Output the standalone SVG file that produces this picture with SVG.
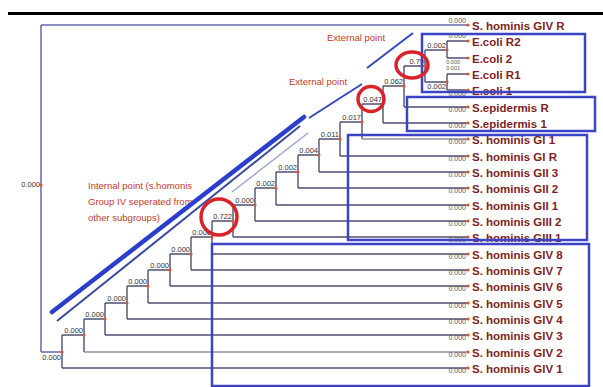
<svg xmlns="http://www.w3.org/2000/svg" width="603" height="387" viewBox="0 0 603 387">
<style>
.br{fill:none;stroke:#4d4f74;stroke-width:1.4}
.lt{fill:none;stroke:#8e90a4;stroke-width:1.4}
.bl{fill:none;stroke:#6468a8;stroke-width:1.5}
.dot{fill:#e4532b}
.nl{font-family:"Liberation Sans",Arial,sans-serif;font-size:7.5px;fill:#333;text-anchor:end}
.ll{font-family:"Liberation Sans",Arial,sans-serif;font-size:7px;fill:#555;text-anchor:end}
.sm{font-size:5.5px}
.lf{font-family:"Liberation Sans",Arial,sans-serif;font-size:11.5px;font-weight:bold;fill:#7d1f24}
.an{font-family:"Liberation Sans",Arial,sans-serif;font-size:9.5px;fill:#c0392b}
.box{fill:none;stroke:#3b44c4;stroke-width:2.5}
.ring{fill:none;stroke:#d9232a;stroke-width:3.5}
</style>
<rect width="603" height="387" fill="#ffffff"/>
<rect x="8" y="12" width="595" height="3" fill="#000"/>

<g id="connectors">
<path class="bl" d="M41,25V352M41,25H468M41,352H62"/>
<path class="br" d="M62,335V368M62,368H468M62,335H84"/>
<path class="br" d="M84,319V352M84,319H105"/>
<path class="lt" d="M84,352H468"/>
<path class="br" d="M105,303V335M105,335H468M105,303H127"/>
<path class="br" d="M127,286V319M127,319H468M127,286H148"/>
<path class="br" d="M148,270V303M148,303H468M148,270H170"/>
<path class="br" d="M170,254V286M170,286H468M170,254H191"/>
<path class="br" d="M191,237V270M191,270H468M191,237H212"/>
<path class="br" d="M212,221V254M212,254H468M212,221H233"/>
<path class="br" d="M233,205V237M233,237H468M233,205H255"/>
<path class="br" d="M255,188V221M255,221H468M255,188H276"/>
<path class="br" d="M276,172V205M276,205H468M276,172H298"/>
<path class="br" d="M298,155V188M298,188H468M298,155H319"/>
<path class="br" d="M319,139V172M319,172H468M319,139H340"/>
<path class="br" d="M340,122V156M340,156H468M340,122H362"/>
<path class="br" d="M362,104V139M362,104H383"/>
<path class="lt" d="M362,139H468"/>
<path class="br" d="M383,86V123M383,123H468M383,86H404"/>
<path class="br" d="M404,66V107M404,107H468M404,66H425"/>
<path class="br" d="M425,50V82M425,50H447M425,82H447"/>
<path class="br" d="M447,41V58M447,41H468M447,58H468"/>
<path class="br" d="M447,74V90M447,74H468M447,90H468"/>
</g>

<g id="root"><circle class="dot" cx="41" cy="185" r="1.6"/><text class="nl" x="40" y="187">0.000</text></g>
<g id="n-a"><circle class="dot" cx="62" cy="352" r="1.6"/><text class="nl" x="61" y="360">0.000</text></g>
<g id="n-b"><circle class="dot" cx="84" cy="335" r="1.6"/><text class="nl" x="83" y="333">0.000</text></g>
<g id="n-c"><circle class="dot" cx="105" cy="319" r="1.6"/><text class="nl" x="104" y="317">0.000</text></g>
<g id="n-d"><circle class="dot" cx="127" cy="303" r="1.6"/><text class="nl" x="126" y="301">0.000</text></g>
<g id="n-e"><circle class="dot" cx="148" cy="286" r="1.6"/><text class="nl" x="147" y="284">0.000</text></g>
<g id="n-f"><circle class="dot" cx="170" cy="270" r="1.6"/><text class="nl" x="169" y="268">0.000</text></g>
<g id="n-g"><circle class="dot" cx="191" cy="254" r="1.6"/><text class="nl" x="190" y="252">0.000</text></g>
<g id="n-h"><circle class="dot" cx="212" cy="237" r="1.6"/><text class="nl" x="211" y="235">0.000</text></g>
<g id="n-722"><circle class="dot" cx="233" cy="221" r="1.6"/><text class="nl" x="232" y="219">0.722</text></g>
<g id="n-i"><circle class="dot" cx="255" cy="205" r="1.6"/><text class="nl" x="254" y="203">0.000</text></g>
<g id="n-j"><circle class="dot" cx="276" cy="188" r="1.6"/><text class="nl" x="275" y="186">0.002</text></g>
<g id="n-k"><circle class="dot" cx="298" cy="172" r="1.6"/><text class="nl" x="297" y="170">0.002</text></g>
<g id="n-l"><circle class="dot" cx="319" cy="155" r="1.6"/><text class="nl" x="318" y="153">0.004</text></g>
<g id="n-m"><circle class="dot" cx="340" cy="139" r="1.6"/><text class="nl" x="339" y="137">0.011</text></g>
<g id="n-n"><circle class="dot" cx="362" cy="122" r="1.6"/><text class="nl" x="361" y="120">0.017</text></g>
<g id="n-047"><circle class="dot" cx="383" cy="104" r="1.6"/><text class="nl" x="382" y="102">0.047</text></g>
<g id="n-062"><circle class="dot" cx="404" cy="86" r="1.6"/><text class="nl" x="403" y="84">0.062</text></g>
<g id="n-79"><circle class="dot" cx="425" cy="66" r="1.6"/><text class="nl" x="424" y="64">0.79</text></g>
<g id="n-ea"><circle class="dot" cx="447" cy="50" r="1.6"/><text class="nl" x="446" y="48">0.002</text></g>
<g id="n-eb"><circle class="dot" cx="447" cy="82" r="1.6"/><text class="nl" x="446" y="89">0.002</text></g>

<g id="leaf-givr"><circle class="dot" cx="468" cy="25" r="1.6"/><text class="ll" x="466" y="23">0.000</text><text class="lf" x="472" y="29.5">S. hominis GIV R</text></g>
<g id="leaf-ecolir2"><circle class="dot" cx="468" cy="41" r="1.6"/><text class="ll" x="466" y="38">0.000</text><text class="lf" x="472" y="45.5">E.coli R2</text></g>
<g id="leaf-ecoli2"><circle class="dot" cx="468" cy="58" r="1.6"/><text class="ll sm" x="460" y="63.5">0.000</text><text class="lf" x="472" y="62.5">E.coli 2</text></g>
<g id="leaf-ecolir1"><circle class="dot" cx="468" cy="74" r="1.6"/><text class="ll sm" x="460" y="69.5">0.001</text><text class="lf" x="472" y="78.5">E.coli R1</text></g>
<g id="leaf-ecoli1"><circle class="dot" cx="468" cy="90" r="1.6"/><text class="ll" x="466" y="96">0.000</text><text class="lf" x="472" y="94.5">E.coli 1</text></g>
<g id="leaf-sepir"><circle class="dot" cx="468" cy="107" r="1.6"/><text class="ll" x="466" y="112">0.000</text><text class="lf" x="472" y="111.5">S.epidermis R</text></g>
<g id="leaf-sepi1"><circle class="dot" cx="468" cy="123" r="1.6"/><text class="ll" x="466" y="128">0.000</text><text class="lf" x="472" y="127.5">S.epidermis 1</text></g>
<g id="leaf-gi1"><circle class="dot" cx="468" cy="139" r="1.6"/><text class="ll" x="466" y="144">0.000</text><text class="lf" x="472" y="143.5">S. hominis GI 1</text></g>
<g id="leaf-gir"><circle class="dot" cx="468" cy="156" r="1.6"/><text class="ll" x="466" y="161">0.000</text><text class="lf" x="472" y="160.5">S. hominis GI R</text></g>
<g id="leaf-gii3"><circle class="dot" cx="468" cy="172" r="1.6"/><text class="ll" x="466" y="177">0.000</text><text class="lf" x="472" y="176.5">S. hominis GII 3</text></g>
<g id="leaf-gii2"><circle class="dot" cx="468" cy="188" r="1.6"/><text class="ll" x="466" y="193">0.000</text><text class="lf" x="472" y="192.5">S. hominis GII 2</text></g>
<g id="leaf-gii1"><circle class="dot" cx="468" cy="205" r="1.6"/><text class="ll" x="466" y="210">0.000</text><text class="lf" x="472" y="209.5">S. hominis GII 1</text></g>
<g id="leaf-giii2"><circle class="dot" cx="468" cy="221" r="1.6"/><text class="ll" x="466" y="226">0.000</text><text class="lf" x="472" y="225.5">S. hominis GIII 2</text></g>
<g id="leaf-giii1"><circle class="dot" cx="468" cy="237" r="1.6"/><text class="ll" x="466" y="242">0.000</text><text class="lf" x="472" y="241.5">S. hominis GIII 1</text></g>
<g id="leaf-giv8"><circle class="dot" cx="468" cy="254" r="1.6"/><text class="ll" x="466" y="259">0.000</text><text class="lf" x="472" y="258.5">S. hominis GIV 8</text></g>
<g id="leaf-giv7"><circle class="dot" cx="468" cy="270" r="1.6"/><text class="ll" x="466" y="275">0.000</text><text class="lf" x="472" y="274.5">S. hominis GIV 7</text></g>
<g id="leaf-giv6"><circle class="dot" cx="468" cy="286" r="1.6"/><text class="ll" x="466" y="291">0.000</text><text class="lf" x="472" y="290.5">S. hominis GIV 6</text></g>
<g id="leaf-giv5"><circle class="dot" cx="468" cy="303" r="1.6"/><text class="ll" x="466" y="308">0.000</text><text class="lf" x="472" y="307.5">S. hominis GIV 5</text></g>
<g id="leaf-giv4"><circle class="dot" cx="468" cy="319" r="1.6"/><text class="ll" x="466" y="324">0.000</text><text class="lf" x="472" y="323.5">S. hominis GIV 4</text></g>
<g id="leaf-giv3"><circle class="dot" cx="468" cy="335" r="1.6"/><text class="ll" x="466" y="340">0.000</text><text class="lf" x="472" y="339.5">S. hominis GIV 3</text></g>
<g id="leaf-giv2"><circle class="dot" cx="468" cy="352" r="1.6"/><text class="ll" x="466" y="357">0.000</text><text class="lf" x="472" y="356.5">S. hominis GIV 2</text></g>
<g id="leaf-giv1"><circle class="dot" cx="468" cy="368" r="1.6"/><text class="ll" x="466" y="373">0.000</text><text class="lf" x="472" y="372.5">S. hominis GIV 1</text></g>

<g id="annotations">
<text class="an" x="327" y="41">External point</text>
<text class="an" x="289" y="85">External point</text>
<text class="an" x="88" y="189">Internal point (s.homonis</text>
<text class="an" x="88" y="205">Group IV seperated from</text>
<text class="an" x="88" y="221">other subgroups)</text>
<path d="M52,312L304,117" stroke="#2b3fcc" stroke-width="4.5" stroke-linecap="round" fill="none"/>
<path d="M57,321L300,126" stroke="#3a4a9c" stroke-width="2" fill="none"/>
<path d="M232,192L308,133" stroke="#9ca3cc" stroke-width="1.5" fill="none"/>
<path d="M309,118L362,84" stroke="#3848b8" stroke-width="2" fill="none"/>
<path d="M367,68L413,33" stroke="#3848b8" stroke-width="2" fill="none"/>
<rect class="box" x="422" y="34" width="163" height="58"/>
<rect class="box" x="407" y="97" width="188" height="34"/>
<rect class="box" x="348" y="135" width="239" height="105"/>
<rect class="box" x="212" y="244" width="377" height="142"/>
<ellipse class="ring" cx="412" cy="65" rx="16" ry="13"/>
<ellipse class="ring" cx="371" cy="99" rx="13" ry="12.5"/>
<ellipse class="ring" cx="219" cy="217" rx="18" ry="18"/>
</g>
</svg>
